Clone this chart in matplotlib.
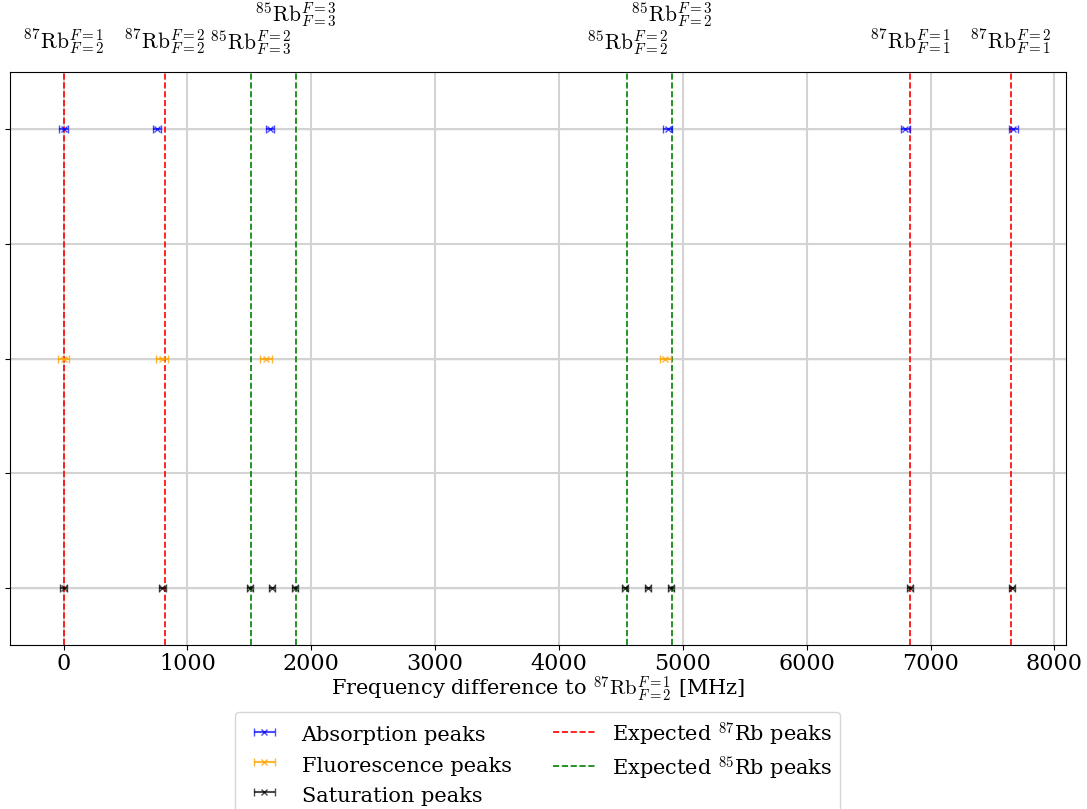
import numpy as np
import matplotlib
matplotlib.use("Agg")
import matplotlib.pyplot as plt
import matplotlib.transforms as mtransforms

plt.rcParams['font.family'] = 'serif'
plt.rcParams['mathtext.fontset'] = 'cm'
plt.rcParams['font.size'] = 16

# measured peak positions [MHz] and uncertainties
absorption = [0, 756, 1665, 4877, 6796, 7668]
absorption_err = [34, 34, 34, 34, 34, 34]
fluorescence = [0, 793, 1633, 4859]
fluorescence_err = [47, 47, 47, 47]
saturation = [0, 799, 1507, 1681, 1872, 4536, 4719, 4902, 6836, 7654]
saturation_err = [25, 25, 25, 25, 25, 25, 25, 25, 25, 25]

# expected transitions
rb87_expected = [0, 816.7, 6834.7, 7651.3]
rb87_labels = [r'$^{87}\mathrm{Rb}^{F=1}_{F=2}$', r'$^{87}\mathrm{Rb}^{F=2}_{F=2}$',
               r'$^{87}\mathrm{Rb}^{F=1}_{F=1}$', r'$^{87}\mathrm{Rb}^{F=2}_{F=1}$']
rb85_expected = [1516, 1878, 4552, 4914]
rb85_labels = [r'$^{85}\mathrm{Rb}^{F=2}_{F=3}$', r'$^{85}\mathrm{Rb}^{F=3}_{F=3}$',
               r'$^{85}\mathrm{Rb}^{F=2}_{F=2}$', r'$^{85}\mathrm{Rb}^{F=3}_{F=2}$']
rb85_raised = [False, True, False, True]

rows = [2, 1, 0]

fig = plt.figure(figsize=(10.87, 8.09), dpi=100)
ax = fig.add_axes([10 / 1087, 1 - 645 / 809, 1056 / 1087, 573 / 809])

ax.grid(True, color='lightgray', lw=1.5, zorder=0)
for r in rows:
    ax.axhline(r, color='#b0b0b0', lw=0.9, zorder=1.5)

h_abs = ax.errorbar(absorption, [rows[0]] * len(absorption), xerr=absorption_err,
                    fmt='x', color='blue', ms=4, capsize=3, alpha=0.7, zorder=3,
                    label='Absorption peaks')
h_flu = ax.errorbar(fluorescence, [rows[1]] * len(fluorescence), xerr=fluorescence_err,
                    fmt='x', color='orange', ms=4, capsize=3, alpha=0.8, zorder=3,
                    label='Fluorescence peaks')
h_sat = ax.errorbar(saturation, [rows[2]] * len(saturation), xerr=saturation_err,
                    fmt='x', color='black', ms=4, capsize=3, alpha=0.7, zorder=3,
                    label='Saturation peaks')

trans = mtransforms.blended_transform_factory(ax.transData, ax.transAxes)
h87 = None
for i, x in enumerate(rb87_expected):
    line = ax.axvline(x, color='red', ls='--', lw=1.2, zorder=2,
                      label=r'Expected $^{87}$Rb peaks')
    if h87 is None:
        h87 = line
    ax.text(x, 1.052, rb87_labels[i], transform=trans, ha='center', va='center', fontsize=15.5)
h85 = None
for i, x in enumerate(rb85_expected):
    line = ax.axvline(x, color='green', ls='--', lw=1.2, zorder=2,
                      label=r'Expected $^{85}$Rb peaks')
    if h85 is None:
        h85 = line
    y = 1.1 if rb85_raised[i] else 1.052
    ax.text(x, y, rb85_labels[i], transform=trans, ha='center', va='center', fontsize=15.5)

ax.set_xlim(-432, 8093)
ax.set_ylim(-0.25, 2.25)
ax.set_yticks([0, 0.5, 1, 1.5, 2])
ax.set_yticklabels([])
ax.tick_params(axis='x', pad=2)
ax.set_xlabel(r'Frequency difference to $^{87}\mathrm{Rb}^{F=1}_{F=2}$ [MHz]', labelpad=0, fontsize=15)

fig.legend(handles=[h_abs, h_flu, h_sat, h87, h85], loc='upper center',
           bbox_to_anchor=(0.4945, 1 - 712 / 809), borderaxespad=0, ncol=2, fontsize=15,
           handleheight=1.4, labelspacing=0.3)

fig.savefig('out.png', dpi=100)
